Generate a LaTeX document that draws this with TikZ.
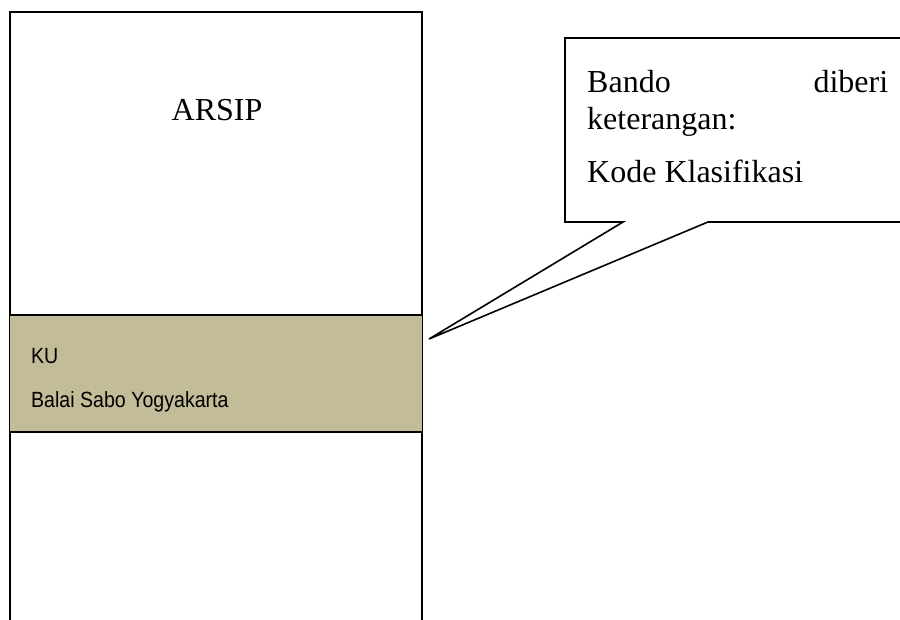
\documentclass[tikz,border=0pt]{standalone}
\usepackage{fontspec}
\setmainfont{Liberation Serif}
\newfontfamily\labelsans{Liberation Sans}
\definecolor{bandfill}{RGB}{195,188,152}
\begin{document}
\begin{tikzpicture}[x=1pt,y=-1pt,
  frame/.style={draw=black,line width=1.6pt},
  serifbig/.style={font=\fontsize{32}{36}\selectfont,inner sep=0pt},
  sanslabel/.style={font=\labelsans\fontsize{22}{26}\selectfont,inner sep=0pt,xscale=0.89}]
  \useasboundingbox (0,0) rectangle (900,620);
  \clip (0,0) rectangle (900,620);

  % archive box, open at the bottom
  \coordinate (boxBL) at (10,630);
  \coordinate (boxTL) at (10,12);
  \coordinate (boxTR) at (422,12);
  \coordinate (boxBR) at (422,630);
  \draw[frame] (boxBL) -- (boxTL) -- (boxTR) -- (boxBR);

  % label band
  \fill[bandfill] (10,315) rectangle (422,432);
  \draw[frame] (10,315) -- (422,315);
  \draw[frame] (10,432) -- (422,432);

  \node[serifbig,anchor=base] (arsip) at (217,121) {ARSIP};
  \node[sanslabel,anchor=base west] (ku) at (31,363) {KU};
  \node[sanslabel,anchor=base west] (balai) at (31,407) {Balai Sabo Yogyakarta};

  % speech callout pointing at the band
  \coordinate (tip) at (429,339);
  \draw[frame,fill=white,line join=miter]
    (tip) -- (623,222) -- (565,222) -- (565,38) -- (910,38)
    -- (910,222) -- (708,222) -- cycle;

  \node[serifbig,anchor=base west] (line1) at (587,93)
    {\makebox[301pt][s]{Bando\hfill diberi}};
  \node[serifbig,anchor=base west] (line2) at (587,130) {keterangan:};
  \node[serifbig,anchor=base west] (line3) at (587,183) {Kode Klasifikasi};
\end{tikzpicture}
\end{document}
